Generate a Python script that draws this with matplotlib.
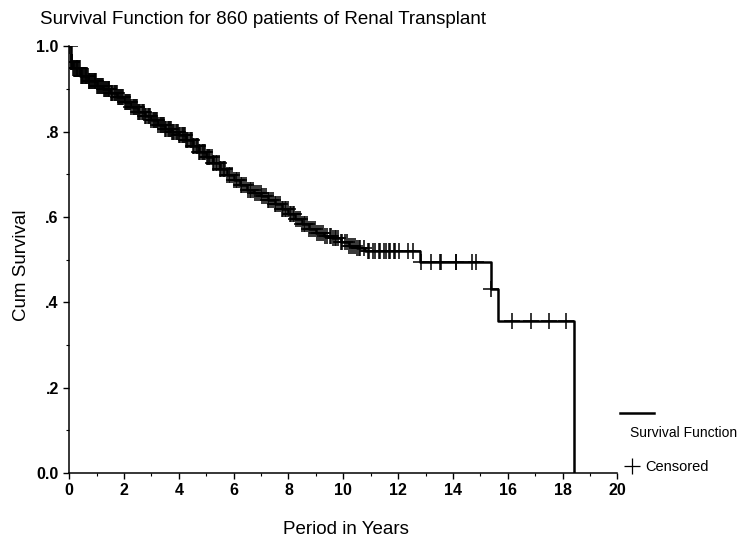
import numpy as np
import matplotlib
matplotlib.use("Agg")
import matplotlib.pyplot as plt
from matplotlib.lines import Line2D

plt.rcParams['font.family'] = ['Liberation Sans', 'DejaVu Sans']

# Kaplan-Meier step curve
event_t = [0.0, 0.05, 0.15, 0.4, 0.7, 1.0, 1.25, 1.5, 1.75, 2.0, 2.25, 2.5, 2.75,
           3.0, 3.25, 3.5, 3.75, 4.0, 4.25, 4.5, 4.75, 5.0, 5.25, 5.5, 5.75,
           6.0, 6.25, 6.5, 6.75, 7.0, 7.25, 7.5, 7.75, 8.0, 8.25, 8.5, 8.75,
           9.0, 9.3, 9.6, 9.9, 10.2, 10.5, 10.8, 12.8, 15.39, 15.65, 18.4]
event_s = [1.0, 0.962, 0.948, 0.93, 0.918, 0.907, 0.899, 0.891, 0.881, 0.87,
           0.858, 0.846, 0.836, 0.826, 0.816, 0.807, 0.8, 0.792, 0.779, 0.765,
           0.752, 0.74, 0.727, 0.713, 0.699, 0.686, 0.675, 0.664, 0.656, 0.649,
           0.64, 0.63, 0.619, 0.606, 0.595, 0.584, 0.572, 0.563, 0.556, 0.55,
           0.541, 0.532, 0.526, 0.52, 0.494, 0.430, 0.355, 0.0]

# censored observations (years)
cens_t = [0.02, 0.05, 0.08, 0.1, 0.12, 0.15, 0.18, 0.22, 0.25, 0.27, 0.3, 0.33,
          0.36, 0.38, 0.42, 0.45, 0.48, 0.5, 0.53, 0.56, 0.6, 0.62, 0.65, 0.68,
          0.71, 0.74, 0.77, 0.8, 0.83, 0.86, 0.9, 0.93, 0.96, 0.98, 1.02, 1.05,
          1.09, 1.12, 1.15, 1.18, 1.22, 1.26, 1.3, 1.33, 1.37, 1.4, 1.44, 1.47,
          1.51, 1.55, 1.58, 1.62, 1.66, 1.7, 1.74, 1.78, 1.82, 1.85, 1.89, 1.93,
          1.97, 2.02, 2.06, 2.1, 2.14, 2.18, 2.22, 2.27, 2.31, 2.35, 2.4, 2.44,
          2.48, 2.52, 2.56, 2.6, 2.65, 2.7, 2.74, 2.78, 2.82, 2.86, 2.9, 2.95,
          3.0, 3.04, 3.08, 3.12, 3.16, 3.2, 3.25, 3.3, 3.34, 3.38, 3.42, 3.46,
          3.5, 3.55, 3.59, 3.63, 3.68, 3.72, 3.76, 3.8, 3.84, 3.88, 3.92, 3.97,
          4.01, 4.05, 4.1, 4.14, 4.18, 4.22, 4.26, 4.3, 4.35, 4.4, 4.44, 4.48,
          4.52, 4.57, 4.62, 4.66, 4.7, 4.75, 4.79, 4.83, 4.88, 4.92, 4.97, 5.02,
          5.06, 5.1, 5.15, 5.2, 5.25, 5.3, 5.35, 5.4, 5.45, 5.5, 5.55, 5.6,
          5.65, 5.7, 5.76, 5.82, 5.88, 5.95, 6.02, 6.08, 6.14, 6.2, 6.26, 6.32,
          6.38, 6.45, 6.52, 6.58, 6.64, 6.7, 6.78, 6.85, 6.92, 6.98, 7.05, 7.1,
          7.18, 7.25, 7.3, 7.38, 7.44, 7.5, 7.56, 7.62, 7.68, 7.75, 7.8, 7.86,
          7.92, 7.98, 8.04, 8.1, 8.16, 8.22, 8.28, 8.35, 8.42, 8.5, 8.56, 8.62,
          8.68, 8.75, 8.82, 8.9, 8.97, 9.05, 9.12, 9.2, 9.27, 9.35, 9.42, 9.5,
          9.56, 9.62, 9.68, 9.75, 9.82, 9.9, 9.97, 10.05, 10.12, 10.2, 10.28,
          10.35, 10.42, 10.5, 10.56, 10.62, 10.75, 10.9, 10.95, 11.1, 11.15,
          11.3, 11.35, 11.5, 11.55, 11.65, 11.7, 11.85, 11.9, 12.05, 12.37,
          12.56, 12.84, 13.21, 13.54, 13.58, 14.1, 14.13, 14.69, 14.83, 15.39,
          16.16, 16.83, 17.49, 18.12]

xticks = [0, 2, 4, 6, 8, 10, 12, 14, 16, 18, 20]
yticks = [0.0, 0.2, 0.4, 0.6, 0.8, 1.0]
ytick_labels = ['0.0', '.2', '.4', '.6', '.8', '1.0']

fig = plt.figure(figsize=(7.52, 5.43), dpi=100)
ax = fig.add_axes([0.092, 0.129, 0.729, 0.786])

ax.step(event_t, event_s, where='post', color='black', lw=1.8)

# y of each censor mark taken from the step curve
idx = np.searchsorted(event_t, cens_t, side='right') - 1
cens_s = np.array(event_s)[idx]
ax.plot(cens_t, cens_s, ls='none', marker='+', ms=12, mew=1.1, color='black')

ax.set_xlim(0, 20)
ax.set_ylim(0, 1.0)
ax.set_xticks(xticks)
ax.set_xticks(np.arange(0, 21, 1), minor=True)
ax.set_yticks(yticks)
ax.set_yticklabels(ytick_labels)
ax.set_yticks(np.arange(0, 1.01, 0.1), minor=True)
ax.tick_params(which='major', direction='out', length=4, width=1)
ax.tick_params(which='minor', direction='out', length=2, width=0.8)
for lab in ax.get_xticklabels() + ax.get_yticklabels():
    lab.set_fontweight('bold')
    lab.set_fontsize(11.5)
for s in ['top', 'right']:
    ax.spines[s].set_visible(False)
for s in ['left', 'bottom']:
    ax.spines[s].set_linewidth(1.1)

fig.text(40 / 752, 1 - 20 / 543, 'Survival Function for 860 patients of Renal Transplant',
         fontsize=13.5, ha='left', va='center')
fig.text(22 / 752, 1 - 265 / 543, 'Cum Survival', fontsize=13.5, rotation=90,
         ha='center', va='center')
fig.text(346 / 752, 1 - 529 / 543, 'Period in Years', fontsize=13.5,
         ha='center', va='center')

# legend drawn outside the axes, as in the original
fig.add_artist(Line2D([620 / 752, 654 / 752], [1 - 413 / 543, 1 - 413 / 543],
                      color='black', lw=1.8, transform=fig.transFigure))
fig.text(630 / 752, 1 - 433 / 543, 'Survival Function', fontsize=10,
         ha='left', va='center')
fig.add_artist(Line2D([632 / 752], [1 - 466 / 543], marker='+', ms=12, mew=0.9,
                      color='black', transform=fig.transFigure))
fig.text(645 / 752, 1 - 467 / 543, 'Censored', fontsize=10.5, ha='left', va='center')

fig.savefig('out.png', dpi=100)
